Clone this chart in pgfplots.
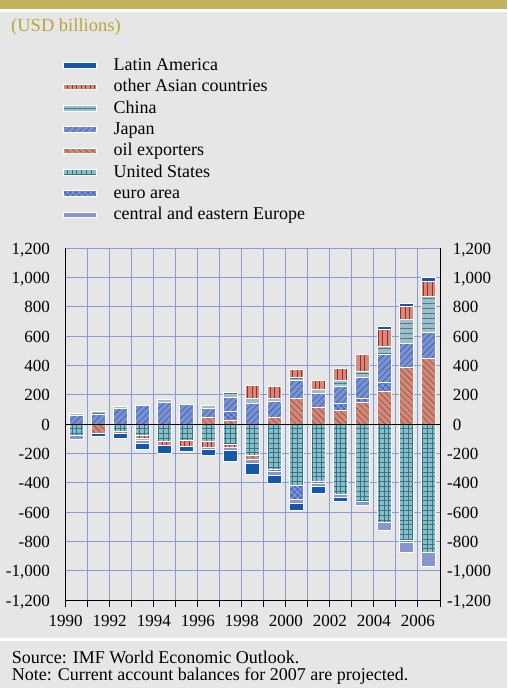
\documentclass[border=0pt]{standalone}
\usepackage{fontspec}
\setmainfont{Liberation Serif}
\usepackage{pgfplots}
\usepackage{pgfplotstable}
\pgfplotsset{compat=1.18}
\usetikzlibrary{patterns,patterns.meta}

\definecolor{bg}{RGB}{230,230,230}
\definecolor{band}{RGB}{194,178,89}
\definecolor{titlec}{RGB}{185,165,55}
\definecolor{gridc}{RGB}{135,155,215}
\definecolor{cLA}{RGB}{22,88,168}
\definecolor{cOAfill}{RGB}{208,140,122}
\definecolor{cOAline}{RGB}{175,35,35}
\definecolor{cCNfill}{RGB}{160,188,198}
\definecolor{cCNline}{RGB}{55,125,145}
\definecolor{cJPfill}{RGB}{125,145,205}
\definecolor{cJPline}{RGB}{35,95,190}
\definecolor{cOILfill}{RGB}{205,140,122}
\definecolor{cOILline}{RGB}{170,60,60}
\definecolor{cUSfill}{RGB}{145,186,196}
\definecolor{cUSline}{RGB}{40,120,140}
\definecolor{cEUfill}{RGB}{125,145,205}
\definecolor{cEUline}{RGB}{40,95,190}
\definecolor{cCEE}{RGB}{135,150,205}

\newcommand\ls{\rule{0pt}{14.9pt}}

\tikzset{
 pLA/.style={fill=cLA, draw=white, line width=1pt},
 pOA/.style={preaction={fill=cOAfill}, pattern={Lines[angle=90,distance=4.5pt,line width=0.9pt]}, pattern color=cOAline, draw=white, line width=1pt},
 pCN/.style={preaction={fill=cCNfill}, pattern={Lines[angle=0,distance=5pt,line width=0.9pt]}, pattern color=cCNline, draw=white, line width=1pt},
 pJP/.style={preaction={fill=cJPfill}, pattern={Lines[angle=45,distance=4.5pt,line width=0.6pt]}, pattern color=cJPline, draw=white, line width=1pt},
 pOIL/.style={preaction={fill=cOILfill}, pattern={Lines[angle=-45,distance=4.5pt,line width=0.6pt]}, pattern color=cOILline, draw=white, line width=1pt},
 pUS/.style={preaction={fill=cUSfill}, pattern={Hatch[angle=0,distance=4.8pt,line width=0.8pt]}, pattern color=cUSline, draw=white, line width=1pt},
 pEU/.style={preaction={fill=cEUfill}, pattern={Hatch[angle=45,distance=4pt,line width=0.6pt]}, pattern color=cEUline, draw=white, line width=1pt},
 pCEE/.style={fill=cCEE, draw=white, line width=1pt},
}

% positive parts (USD billions), bars 1990..2006
\pgfplotstableread{
x oil euro japan china oasia la
0.5 0 0 60 16 0 0
1.5 0 0 70 17 0 0
2.5 0 0 110 12 0 0
3.5 0 0 130 0 0 0
4.5 0 0 152 18 0 0
5.5 0 0 133 0 0 0
6.5 48 0 61 22 0 0
7.5 25 62 98 34 0 0
8.5 0 0 145 30 88 0
9.5 44 0 111 23 82 0
10.5 176 0 122 24 54 0
11.5 113 0 97 26 63 0
12.5 94 50 114 40 80 0
13.5 146 32 140 42 118 0
14.5 226 61 187 59 112 21
15.5 388 0 164 160 93 18
16.5 448 0 178 246 100 27
}\posdata

% negative parts
\pgfplotstableread{
x us oil oasia china euro cee la
0.5 -76 0 0 0 0 -30 0
1.5 0 -63 0 0 0 0 -17
2.5 -47 -19 0 0 0 0 -34
3.5 -78 0 -19 -15 0 -20 -42
4.5 -118 0 -24 0 0 0 -55
5.5 -111 0 -37 0 0 0 -40
6.5 -120 0 -39 0 0 -15 -42
7.5 -141 0 -19 0 0 -21 -70
8.5 -214 -28 0 0 0 -23 -80
9.5 -306 0 0 0 -17 -24 -55
10.5 -414 0 0 0 -97 -28 -49
11.5 -387 0 0 0 -15 -19 -53
12.5 -476 0 0 0 0 -25 -26
13.5 -528 0 0 0 0 -29 0
14.5 -669 0 0 0 0 -52 0
15.5 -790 0 0 0 -18 -67 0
16.5 -875 0 0 0 0 -94 0
}\negdata

\pgfplotsset{myaxis/.style={scale only axis, width=374.3pt, height=352pt,
  xmin=0, xmax=17, ymin=-1200, ymax=1200, enlargelimits=false,
  at={(65.7pt,87.7pt)}, anchor=south west}}

\begin{document}
\begin{tikzpicture}[x=1pt,y=1pt]
\path[use as bounding box] (0,0) rectangle (507,688);
\fill[bg] (0,0) rectangle (507,688);
\fill[band] (0,678.7) rectangle (507,688);
\fill[white] (0,676) rectangle (507,678.7);
\fill[white] (0,47.3) rectangle (507,49.7);
\node[anchor=base west, inner sep=0pt, text=titlec, font=\fontsize{18.5}{20}\selectfont] at (11,656.3) {(USD billions)};
\node[anchor=base west, inner sep=0pt, font=\fontsize{18}{20}\selectfont] at (11.7,24) {Source: IMF World Economic Outlook.};
\node[anchor=base west, inner sep=0pt, font=\fontsize{18}{20}\selectfont] at (11.7,7) {Note: Current account balances for 2007 are projected.};

% base axis: grid, left labels, x labels, legend
\begin{axis}[myaxis,
  axis x line*=bottom, axis y line*=left,
  axis line style={black, line width=1pt},
  xtick={0,...,17},
  xticklabels={1990,,1992,,1994,,1996,,1998,,2000,,2002,,2004,,2006,,},
  ytick={-1200,-1000,...,1200},
  yticklabels={{-1,200},{-1,000},{-800},{-600},{-400},{-200},{0},{200},{400},{600},{800},{1,000},{1,200}},
  grid=major, grid style={gridc, line width=1pt},
  ytick style={draw=none},
  xtick style={black, line width=1pt},
  major tick length=7pt, tick align=outside,
  yticklabel style={anchor=base east, inner sep=0pt, xshift=-8.7pt, yshift=-5.75pt, font=\fontsize{17}{17}\selectfont},
  xticklabel style={anchor=base, inner sep=0pt, yshift=-19pt, font=\fontsize{17}{17}\selectfont},
  legend image code/.code={\draw[#1] (0pt,-4pt) rectangle (33pt,1.6pt); \path (49.4pt,0pt);},
  legend cell align=left,
  legend style={at={(axis description cs:-0.0064,1.5469)}, anchor=north west,
    draw=none, fill=none, inner sep=0pt, outer sep=0pt, row sep=3.7pt, column sep=0pt,
    font=\fontsize{18}{21.3}\selectfont,
    nodes={inner sep=0pt, outer sep=0pt, text depth=2.7pt}},
]
\addlegendimage{pLA}\addlegendentry{\ls Latin America}
\addlegendimage{pOA}\addlegendentry{\ls other Asian countries}
\addlegendimage{pCN}\addlegendentry{\ls China}
\addlegendimage{pJP}\addlegendentry{\ls Japan}
\addlegendimage{pOIL}\addlegendentry{\ls oil exporters}
\addlegendimage{pUS}\addlegendentry{\ls United States}
\addlegendimage{pEU}\addlegendentry{\ls euro area}
\addlegendimage{pCEE}\addlegendentry{\ls central and eastern Europe}
\end{axis}

% positive stacks
\begin{axis}[myaxis, hide axis, ybar stacked, bar width=14pt]
\addplot[pOIL] table[x=x,y=oil]{\posdata};
\addplot[pEU] table[x=x,y=euro]{\posdata};
\addplot[pJP] table[x=x,y=japan]{\posdata};
\addplot[pCN] table[x=x,y=china]{\posdata};
\addplot[pOA] table[x=x,y=oasia]{\posdata};
\addplot[pLA] table[x=x,y=la]{\posdata};
\end{axis}

% negative stacks
\begin{axis}[myaxis, hide axis, ybar stacked, bar width=14pt]
\addplot[pUS] table[x=x,y=us]{\negdata};
\addplot[pOIL] table[x=x,y=oil]{\negdata};
\addplot[pOA] table[x=x,y=oasia]{\negdata};
\addplot[pCN] table[x=x,y=china]{\negdata};
\addplot[pEU] table[x=x,y=euro]{\negdata};
\addplot[pCEE] table[x=x,y=cee]{\negdata};
\addplot[pLA] table[x=x,y=la]{\negdata};
\end{axis}

% right axis and zero line
\begin{axis}[myaxis,
  axis x line=none, axis y line*=right,
  axis line style={black, line width=1pt},
  ytick={-1200,-1000,...,1200},
  yticklabels={{\llap{-}1,200},{\llap{-}1,000},{\llap{-}800},{\llap{-}600},{\llap{-}400},{\llap{-}200},{0},{200},{400},{600},{800},{1,000},{1,200}},
  ytick style={draw=none},
  yticklabel style={anchor=base west, inner sep=0pt, xshift=12.7pt, yshift=-5.75pt, font=\fontsize{17}{17}\selectfont},
  extra y ticks={0}, extra y tick labels={},
  extra y tick style={ymajorgrids=true, grid style={black, line width=1.5pt}, tick style={draw=none}},
]
\end{axis}
\end{tikzpicture}
\end{document}
